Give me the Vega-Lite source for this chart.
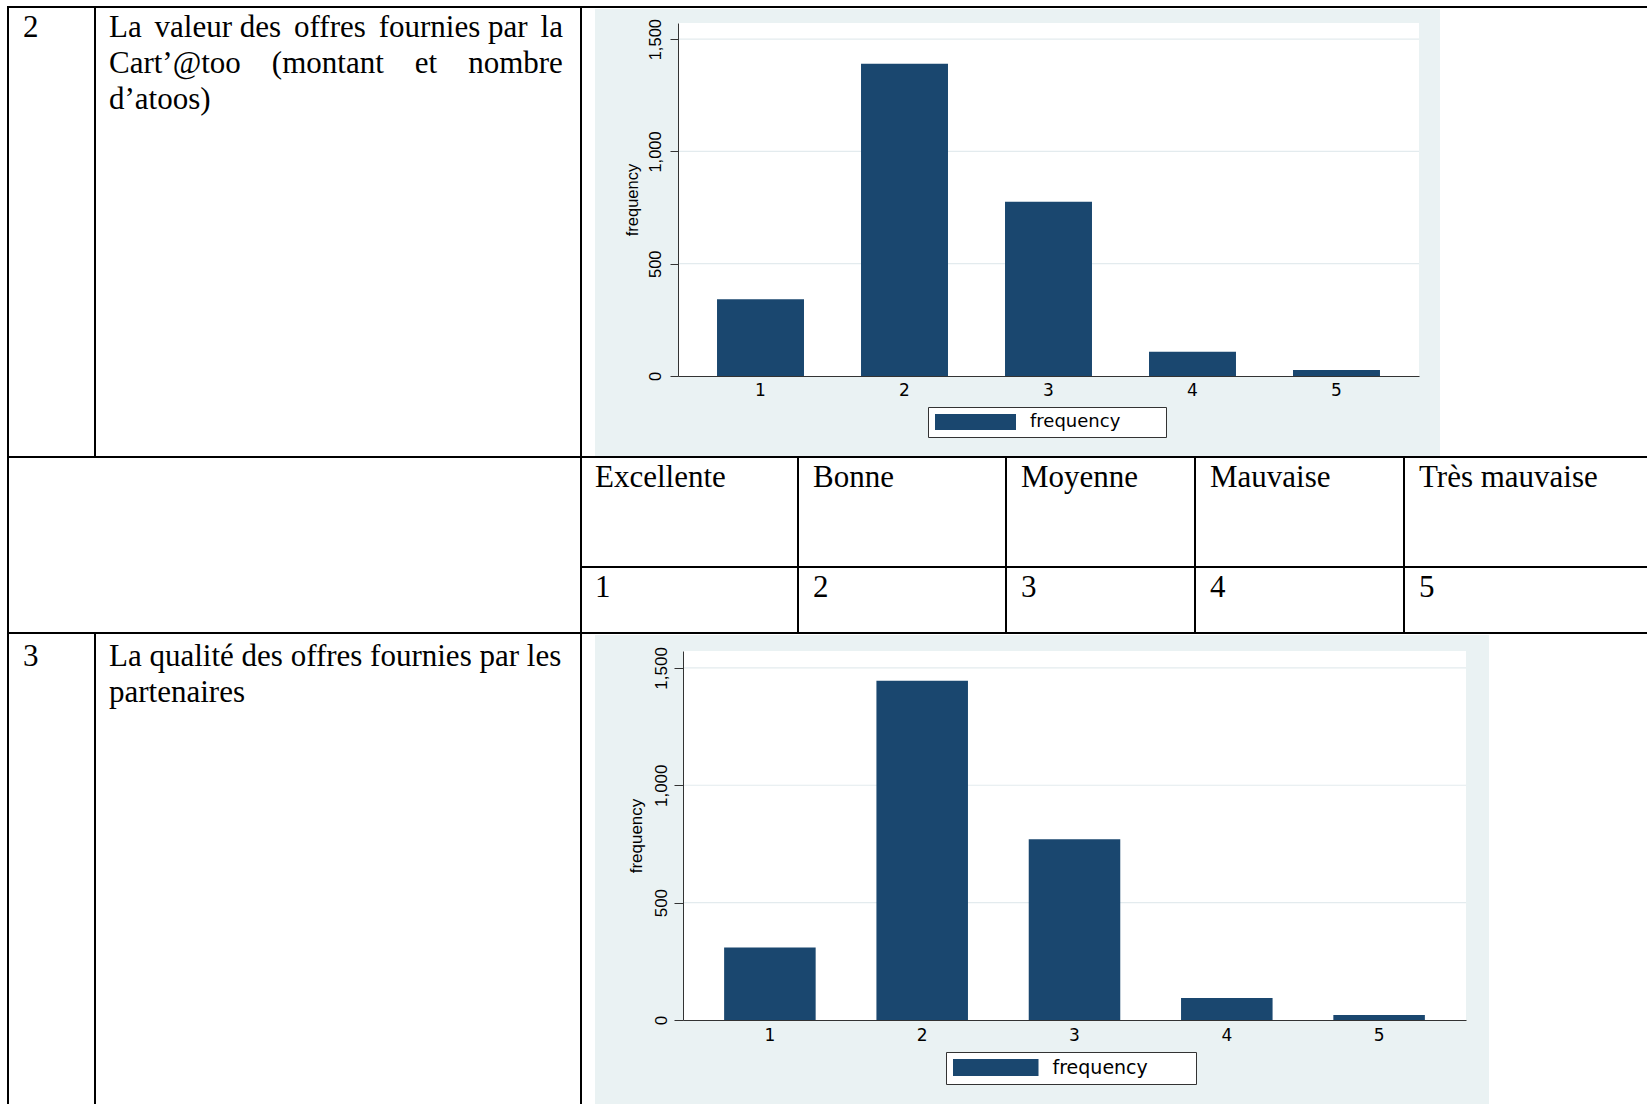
{
  "$schema": "https://vega.github.io/schema/vega-lite/v6.json",
  "background": "#ffffff",
  "padding": {"left": 7, "top": 6, "right": 0, "bottom": 0},
  "spacing": 0,
  "resolve": {"scale": {"x": "independent", "y": "independent", "color": "independent"}, "legend": {"color": "independent"}},
  "config": {"view": {"stroke": null}},
  "vconcat": [
    {
      "spacing": 0,
      "resolve": {"scale": {"x": "independent", "y": "independent", "color": "independent"}, "legend": {"color": "independent"}},
      "hconcat": [
        {
          "width": 86, "height": 449,
          "layer": [
            {"data": {"values": [{}]}, "mark": {"type": "rect", "color": "#000000"}, "encoding": {"x": {"value": 0}, "x2": {"value": "width"}, "y": {"value": -1}, "y2": {"value": 1}}},
            {"data": {"values": [{}]}, "mark": {"type": "rect", "color": "#000000"}, "encoding": {"x": {"value": -1}, "x2": {"value": 1}, "y": {"value": -1}, "y2": {"value": "height"}}},
            {"data": {"values": [{"item": "2"}]}, "mark": {"type": "text", "font": "Liberation Serif", "fontSize": 31, "align": "left", "baseline": "alphabetic", "color": "#000000"}, "encoding": {"x": {"value": 15}, "y": {"value": 30}, "text": {"field": "item"}}}
          ]
        },
        {
          "width": 485, "height": 449,
          "layer": [
            {"data": {"values": [{}]}, "mark": {"type": "rect", "color": "#000000"}, "encoding": {"x": {"value": 0}, "x2": {"value": "width"}, "y": {"value": -1}, "y2": {"value": 1}}},
            {"data": {"values": [{}]}, "mark": {"type": "rect", "color": "#000000"}, "encoding": {"x": {"value": -1}, "x2": {"value": 1}, "y": {"value": -1}, "y2": {"value": "height"}}},
            {"data": {"values": [{"lines": ["La\u2006 valeur des\u2006 offres\u2006 fournies par\u2006 la", "Cart’@too\u00a0\u00a0\u00a0 (montant\u00a0\u00a0\u00a0 et\u00a0\u00a0\u00a0 nombre", "d’atoos)"]}]}, "mark": {"type": "text", "font": "Liberation Serif", "fontSize": 31, "lineHeight": 36, "align": "left", "baseline": "alphabetic", "color": "#000000"}, "encoding": {"x": {"value": 14}, "y": {"value": 30}, "text": {"field": "lines"}}}
          ]
        },
        {
          "width": 1066, "height": 449,
          "layer": [
            {"data": {"values": [{}]}, "mark": {"type": "rect", "color": "#eaf2f3"}, "encoding": {"x": {"value": 14}, "x2": {"value": 859}, "y": {"value": 2}, "y2": {"value": "height"}}},
            {"data": {"values": [{}]}, "mark": {"type": "rect", "color": "#ffffff"}, "encoding": {"x": {"value": 97}, "x2": {"value": 838}, "y": {"value": 16}, "y2": {"value": 369}}},
            {"data": {"values": [{"gridline": 500}, {"gridline": 1000}, {"gridline": 1500}]}, "mark": {"type": "rule", "color": "#e3ebee", "strokeWidth": 1.2}, "encoding": {"x": {"value": 97}, "x2": {"value": 838},
              "y": {"field": "gridline", "type": "quantitative", "scale": {"domain": [0, 1572], "range": [369, 16], "nice": false},
                    "axis": {"orient": "left", "offset": -97, "title": "frequency", "values": [0, 500, 1000, 1500], "format": ",d", "tickSize": 8, "tickColor": "#333333", "domainColor": "#333333", "labelFont": "Liberation Sans", "labelFontSize": 16.5, "labelColor": "#000000", "labelAngle": -90, "labelAlign": "center", "labelBaseline": "alphabetic", "labelPadding": 10, "labelFlush": false, "grid": false, "titleFont": "Liberation Sans", "titleFontSize": 16.5, "titleFontWeight": "normal", "titleColor": "#000000", "titlePadding": 7, "zindex": 1}}}},
            {
              "data": {"values": [
                {"rating": "1", "frequency": 342},
                {"rating": "2", "frequency": 1390},
                {"rating": "3", "frequency": 776},
                {"rating": "4", "frequency": 108},
                {"rating": "5", "frequency": 27}
              ]},
              "mark": {"type": "bar"},
              "encoding": {
                "x": {"field": "rating", "type": "nominal", "scale": {"type": "band", "range": [97, 838], "paddingInner": 0.396, "paddingOuter": 0.271},
                      "axis": {"orient": "bottom", "offset": -80, "title": null, "ticks": false, "tickSize": 0, "domainColor": "#333333", "domainWidth": 1, "labelFont": "DejaVu Sans", "labelFontSize": 17, "labelColor": "#000000", "labelPadding": 6, "labelAngle": 0, "grid": false, "zindex": 1}},
                "y": {"field": "frequency", "type": "quantitative", "scale": {"domain": [0, 1572], "range": [369, 16], "nice": false},
                      "axis": {"orient": "left", "offset": -97, "title": "frequency", "values": [0, 500, 1000, 1500], "format": ",d", "tickSize": 8, "tickColor": "#333333", "domainColor": "#333333", "labelFont": "Liberation Sans", "labelFontSize": 16.5, "labelColor": "#000000", "labelAngle": -90, "labelAlign": "center", "labelBaseline": "alphabetic", "labelPadding": 10, "labelFlush": false, "grid": false, "titleFont": "Liberation Sans", "titleFontSize": 16.5, "titleFontWeight": "normal", "titleColor": "#000000", "titlePadding": 7, "zindex": 1}},
                "color": {"datum": "frequency", "scale": {"range": ["#1a476f"]},
                          "legend": {"orient": "none", "legendX": 347, "legendY": 400, "title": null, "padding": 6, "strokeColor": "#333333", "fillColor": "#ffffff", "cornerRadius": 0, "symbolType": "M-1,-1H9.125V1H-1Z", "symbolSize": 256, "symbolStrokeWidth": 0, "symbolOpacity": 1, "labelFont": "DejaVu Sans", "labelFontSize": 18, "labelColor": "#000000", "labelOffset": 78, "labelLimit": 400, "labelExpr": "datum.label + '\u2800\u2800\u2800'"}}
              }
            },
            {"data": {"values": [{}]}, "mark": {"type": "rect", "color": "#000000"}, "encoding": {"x": {"value": 0}, "x2": {"value": "width"}, "y": {"value": -1}, "y2": {"value": 1}}},
            {"data": {"values": [{}]}, "mark": {"type": "rect", "color": "#000000"}, "encoding": {"x": {"value": -1}, "x2": {"value": 1}, "y": {"value": -1}, "y2": {"value": "height"}}}
          ]
        }
      ]
    },
    {
      "spacing": 0,
      "hconcat": [
        {
          "width": 572, "height": 175,
          "layer": [
            {"data": {"values": [{}]}, "mark": {"type": "rect", "color": "#000000"}, "encoding": {"x": {"value": 0}, "x2": {"value": "width"}, "y": {"value": -1}, "y2": {"value": 1}}},
            {"data": {"values": [{}]}, "mark": {"type": "rect", "color": "#000000"}, "encoding": {"x": {"value": -1}, "x2": {"value": 1}, "y": {"value": -1}, "y2": {"value": "height"}}}
          ]
        },
        {
          "width": 216, "height": 175,
          "data": {"values": [{"label": "Excellente", "code": "1"}]},
          "layer": [
            {"mark": {"type": "rect", "color": "#000000"}, "encoding": {"x": {"value": 0}, "x2": {"value": "width"}, "y": {"value": -1}, "y2": {"value": 1}}},
            {"mark": {"type": "rect", "color": "#000000"}, "encoding": {"x": {"value": 0}, "x2": {"value": "width"}, "y": {"value": 109}, "y2": {"value": 111}}},
            {"mark": {"type": "rect", "color": "#000000"}, "encoding": {"x": {"value": -1}, "x2": {"value": 1}, "y": {"value": -1}, "y2": {"value": "height"}}},
            {"mark": {"type": "text", "font": "Liberation Serif", "fontSize": 31, "align": "left", "baseline": "alphabetic", "color": "#000000"}, "encoding": {"x": {"value": 14}, "y": {"value": 30}, "text": {"field": "label"}}},
            {"mark": {"type": "text", "font": "Liberation Serif", "fontSize": 31, "align": "left", "baseline": "alphabetic", "color": "#000000"}, "encoding": {"x": {"value": 14}, "y": {"value": 140}, "text": {"field": "code"}}}
          ]
        },
        {
          "width": 207, "height": 175,
          "data": {"values": [{"label": "Bonne", "code": "2"}]},
          "layer": [
            {"mark": {"type": "rect", "color": "#000000"}, "encoding": {"x": {"value": 0}, "x2": {"value": "width"}, "y": {"value": -1}, "y2": {"value": 1}}},
            {"mark": {"type": "rect", "color": "#000000"}, "encoding": {"x": {"value": 0}, "x2": {"value": "width"}, "y": {"value": 109}, "y2": {"value": 111}}},
            {"mark": {"type": "rect", "color": "#000000"}, "encoding": {"x": {"value": -1}, "x2": {"value": 1}, "y": {"value": -1}, "y2": {"value": "height"}}},
            {"mark": {"type": "text", "font": "Liberation Serif", "fontSize": 31, "align": "left", "baseline": "alphabetic", "color": "#000000"}, "encoding": {"x": {"value": 15}, "y": {"value": 30}, "text": {"field": "label"}}},
            {"mark": {"type": "text", "font": "Liberation Serif", "fontSize": 31, "align": "left", "baseline": "alphabetic", "color": "#000000"}, "encoding": {"x": {"value": 15}, "y": {"value": 140}, "text": {"field": "code"}}}
          ]
        },
        {
          "width": 188, "height": 175,
          "data": {"values": [{"label": "Moyenne", "code": "3"}]},
          "layer": [
            {"mark": {"type": "rect", "color": "#000000"}, "encoding": {"x": {"value": 0}, "x2": {"value": "width"}, "y": {"value": -1}, "y2": {"value": 1}}},
            {"mark": {"type": "rect", "color": "#000000"}, "encoding": {"x": {"value": 0}, "x2": {"value": "width"}, "y": {"value": 109}, "y2": {"value": 111}}},
            {"mark": {"type": "rect", "color": "#000000"}, "encoding": {"x": {"value": -1}, "x2": {"value": 1}, "y": {"value": -1}, "y2": {"value": "height"}}},
            {"mark": {"type": "text", "font": "Liberation Serif", "fontSize": 31, "align": "left", "baseline": "alphabetic", "color": "#000000"}, "encoding": {"x": {"value": 15}, "y": {"value": 30}, "text": {"field": "label"}}},
            {"mark": {"type": "text", "font": "Liberation Serif", "fontSize": 31, "align": "left", "baseline": "alphabetic", "color": "#000000"}, "encoding": {"x": {"value": 15}, "y": {"value": 140}, "text": {"field": "code"}}}
          ]
        },
        {
          "width": 208, "height": 175,
          "data": {"values": [{"label": "Mauvaise", "code": "4"}]},
          "layer": [
            {"mark": {"type": "rect", "color": "#000000"}, "encoding": {"x": {"value": 0}, "x2": {"value": "width"}, "y": {"value": -1}, "y2": {"value": 1}}},
            {"mark": {"type": "rect", "color": "#000000"}, "encoding": {"x": {"value": 0}, "x2": {"value": "width"}, "y": {"value": 109}, "y2": {"value": 111}}},
            {"mark": {"type": "rect", "color": "#000000"}, "encoding": {"x": {"value": -1}, "x2": {"value": 1}, "y": {"value": -1}, "y2": {"value": "height"}}},
            {"mark": {"type": "text", "font": "Liberation Serif", "fontSize": 31, "align": "left", "baseline": "alphabetic", "color": "#000000"}, "encoding": {"x": {"value": 15}, "y": {"value": 30}, "text": {"field": "label"}}},
            {"mark": {"type": "text", "font": "Liberation Serif", "fontSize": 31, "align": "left", "baseline": "alphabetic", "color": "#000000"}, "encoding": {"x": {"value": 15}, "y": {"value": 140}, "text": {"field": "code"}}}
          ]
        },
        {
          "width": 243, "height": 175,
          "data": {"values": [{"label": "Très mauvaise", "code": "5"}]},
          "layer": [
            {"mark": {"type": "rect", "color": "#000000"}, "encoding": {"x": {"value": 0}, "x2": {"value": "width"}, "y": {"value": -1}, "y2": {"value": 1}}},
            {"mark": {"type": "rect", "color": "#000000"}, "encoding": {"x": {"value": 0}, "x2": {"value": "width"}, "y": {"value": 109}, "y2": {"value": 111}}},
            {"mark": {"type": "rect", "color": "#000000"}, "encoding": {"x": {"value": -1}, "x2": {"value": 1}, "y": {"value": -1}, "y2": {"value": "height"}}},
            {"mark": {"type": "text", "font": "Liberation Serif", "fontSize": 31, "align": "left", "baseline": "alphabetic", "color": "#000000"}, "encoding": {"x": {"value": 15}, "y": {"value": 30}, "text": {"field": "label"}}},
            {"mark": {"type": "text", "font": "Liberation Serif", "fontSize": 31, "align": "left", "baseline": "alphabetic", "color": "#000000"}, "encoding": {"x": {"value": 15}, "y": {"value": 140}, "text": {"field": "code"}}}
          ]
        }
      ]
    },
    {
      "spacing": 0,
      "resolve": {"scale": {"x": "independent", "y": "independent", "color": "independent"}, "legend": {"color": "independent"}},
      "hconcat": [
        {
          "width": 86, "height": 471,
          "layer": [
            {"data": {"values": [{}]}, "mark": {"type": "rect", "color": "#000000"}, "encoding": {"x": {"value": 0}, "x2": {"value": "width"}, "y": {"value": -1}, "y2": {"value": 1}}},
            {"data": {"values": [{}]}, "mark": {"type": "rect", "color": "#000000"}, "encoding": {"x": {"value": -1}, "x2": {"value": 1}, "y": {"value": -1}, "y2": {"value": "height"}}},
            {"data": {"values": [{"item": "3"}]}, "mark": {"type": "text", "font": "Liberation Serif", "fontSize": 31, "align": "left", "baseline": "alphabetic", "color": "#000000"}, "encoding": {"x": {"value": 15}, "y": {"value": 33}, "text": {"field": "item"}}}
          ]
        },
        {
          "width": 485, "height": 471,
          "layer": [
            {"data": {"values": [{}]}, "mark": {"type": "rect", "color": "#000000"}, "encoding": {"x": {"value": 0}, "x2": {"value": "width"}, "y": {"value": -1}, "y2": {"value": 1}}},
            {"data": {"values": [{}]}, "mark": {"type": "rect", "color": "#000000"}, "encoding": {"x": {"value": -1}, "x2": {"value": 1}, "y": {"value": -1}, "y2": {"value": "height"}}},
            {"data": {"values": [{"lines": ["La qualité des offres fournies par les", "partenaires"]}]}, "mark": {"type": "text", "font": "Liberation Serif", "fontSize": 31, "lineHeight": 36, "align": "left", "baseline": "alphabetic", "color": "#000000"}, "encoding": {"x": {"value": 14}, "y": {"value": 33}, "text": {"field": "lines"}}}
          ]
        },
        {
          "width": 1066, "height": 471,
          "layer": [
            {"data": {"values": [{}]}, "mark": {"type": "rect", "color": "#eaf2f3"}, "encoding": {"x": {"value": 14}, "x2": {"value": 908}, "y": {"value": 2}, "y2": {"value": "height"}}},
            {"data": {"values": [{}]}, "mark": {"type": "rect", "color": "#ffffff"}, "encoding": {"x": {"value": 102}, "x2": {"value": 885}, "y": {"value": 18}, "y2": {"value": 387}}},
            {"data": {"values": [{"gridline": 500}, {"gridline": 1000}, {"gridline": 1500}]}, "mark": {"type": "rule", "color": "#e3ebee", "strokeWidth": 1.2}, "encoding": {"x": {"value": 102}, "x2": {"value": 885},
              "y": {"field": "gridline", "type": "quantitative", "scale": {"domain": [0, 1572], "range": [387, 18], "nice": false},
                    "axis": {"orient": "left", "offset": -102, "title": "frequency", "values": [0, 500, 1000, 1500], "format": ",d", "tickSize": 9, "tickColor": "#333333", "domainColor": "#333333", "labelFont": "Liberation Sans", "labelFontSize": 17, "labelColor": "#000000", "labelAngle": -90, "labelAlign": "center", "labelBaseline": "alphabetic", "labelPadding": 8, "labelFlush": false, "grid": false, "titleFont": "Liberation Sans", "titleFontSize": 17, "titleFontWeight": "normal", "titleColor": "#000000", "titlePadding": 7, "zindex": 1}}}},
            {
              "data": {"values": [
                {"rating": "1", "frequency": 309},
                {"rating": "2", "frequency": 1445},
                {"rating": "3", "frequency": 770},
                {"rating": "4", "frequency": 94},
                {"rating": "5", "frequency": 21}
              ]},
              "mark": {"type": "bar"},
              "encoding": {
                "x": {"field": "rating", "type": "nominal", "scale": {"type": "band", "range": [102, 885], "paddingInner": 0.399, "paddingOuter": 0.27},
                      "axis": {"orient": "bottom", "offset": -84, "title": null, "ticks": false, "tickSize": 0, "domainColor": "#333333", "domainWidth": 1, "labelFont": "DejaVu Sans", "labelFontSize": 17, "labelColor": "#000000", "labelPadding": 7, "labelAngle": 0, "grid": false, "zindex": 1}},
                "y": {"field": "frequency", "type": "quantitative", "scale": {"domain": [0, 1572], "range": [387, 18], "nice": false},
                      "axis": {"orient": "left", "offset": -102, "title": "frequency", "values": [0, 500, 1000, 1500], "format": ",d", "tickSize": 9, "tickColor": "#333333", "domainColor": "#333333", "labelFont": "Liberation Sans", "labelFontSize": 17, "labelColor": "#000000", "labelAngle": -90, "labelAlign": "center", "labelBaseline": "alphabetic", "labelPadding": 8, "labelFlush": false, "grid": false, "titleFont": "Liberation Sans", "titleFontSize": 17, "titleFontWeight": "normal", "titleColor": "#000000", "titlePadding": 7, "zindex": 1}},
                "color": {"datum": "frequency", "scale": {"range": ["#1a476f"]},
                          "legend": {"orient": "none", "legendX": 365, "legendY": 419, "title": null, "padding": 6, "strokeColor": "#333333", "fillColor": "#ffffff", "cornerRadius": 0, "symbolType": "M-1,-1H9.06V1H-1Z", "symbolSize": 289, "symbolStrokeWidth": 0, "symbolOpacity": 1, "labelFont": "DejaVu Sans", "labelFontSize": 19, "labelColor": "#000000", "labelOffset": 81.5, "labelLimit": 400, "labelExpr": "datum.label + '\u2800\u2800\u2800'"}}
              }
            },
            {"data": {"values": [{}]}, "mark": {"type": "rect", "color": "#000000"}, "encoding": {"x": {"value": 0}, "x2": {"value": "width"}, "y": {"value": -1}, "y2": {"value": 1}}},
            {"data": {"values": [{}]}, "mark": {"type": "rect", "color": "#000000"}, "encoding": {"x": {"value": -1}, "x2": {"value": 1}, "y": {"value": -1}, "y2": {"value": "height"}}}
          ]
        }
      ]
    }
  ]
}
